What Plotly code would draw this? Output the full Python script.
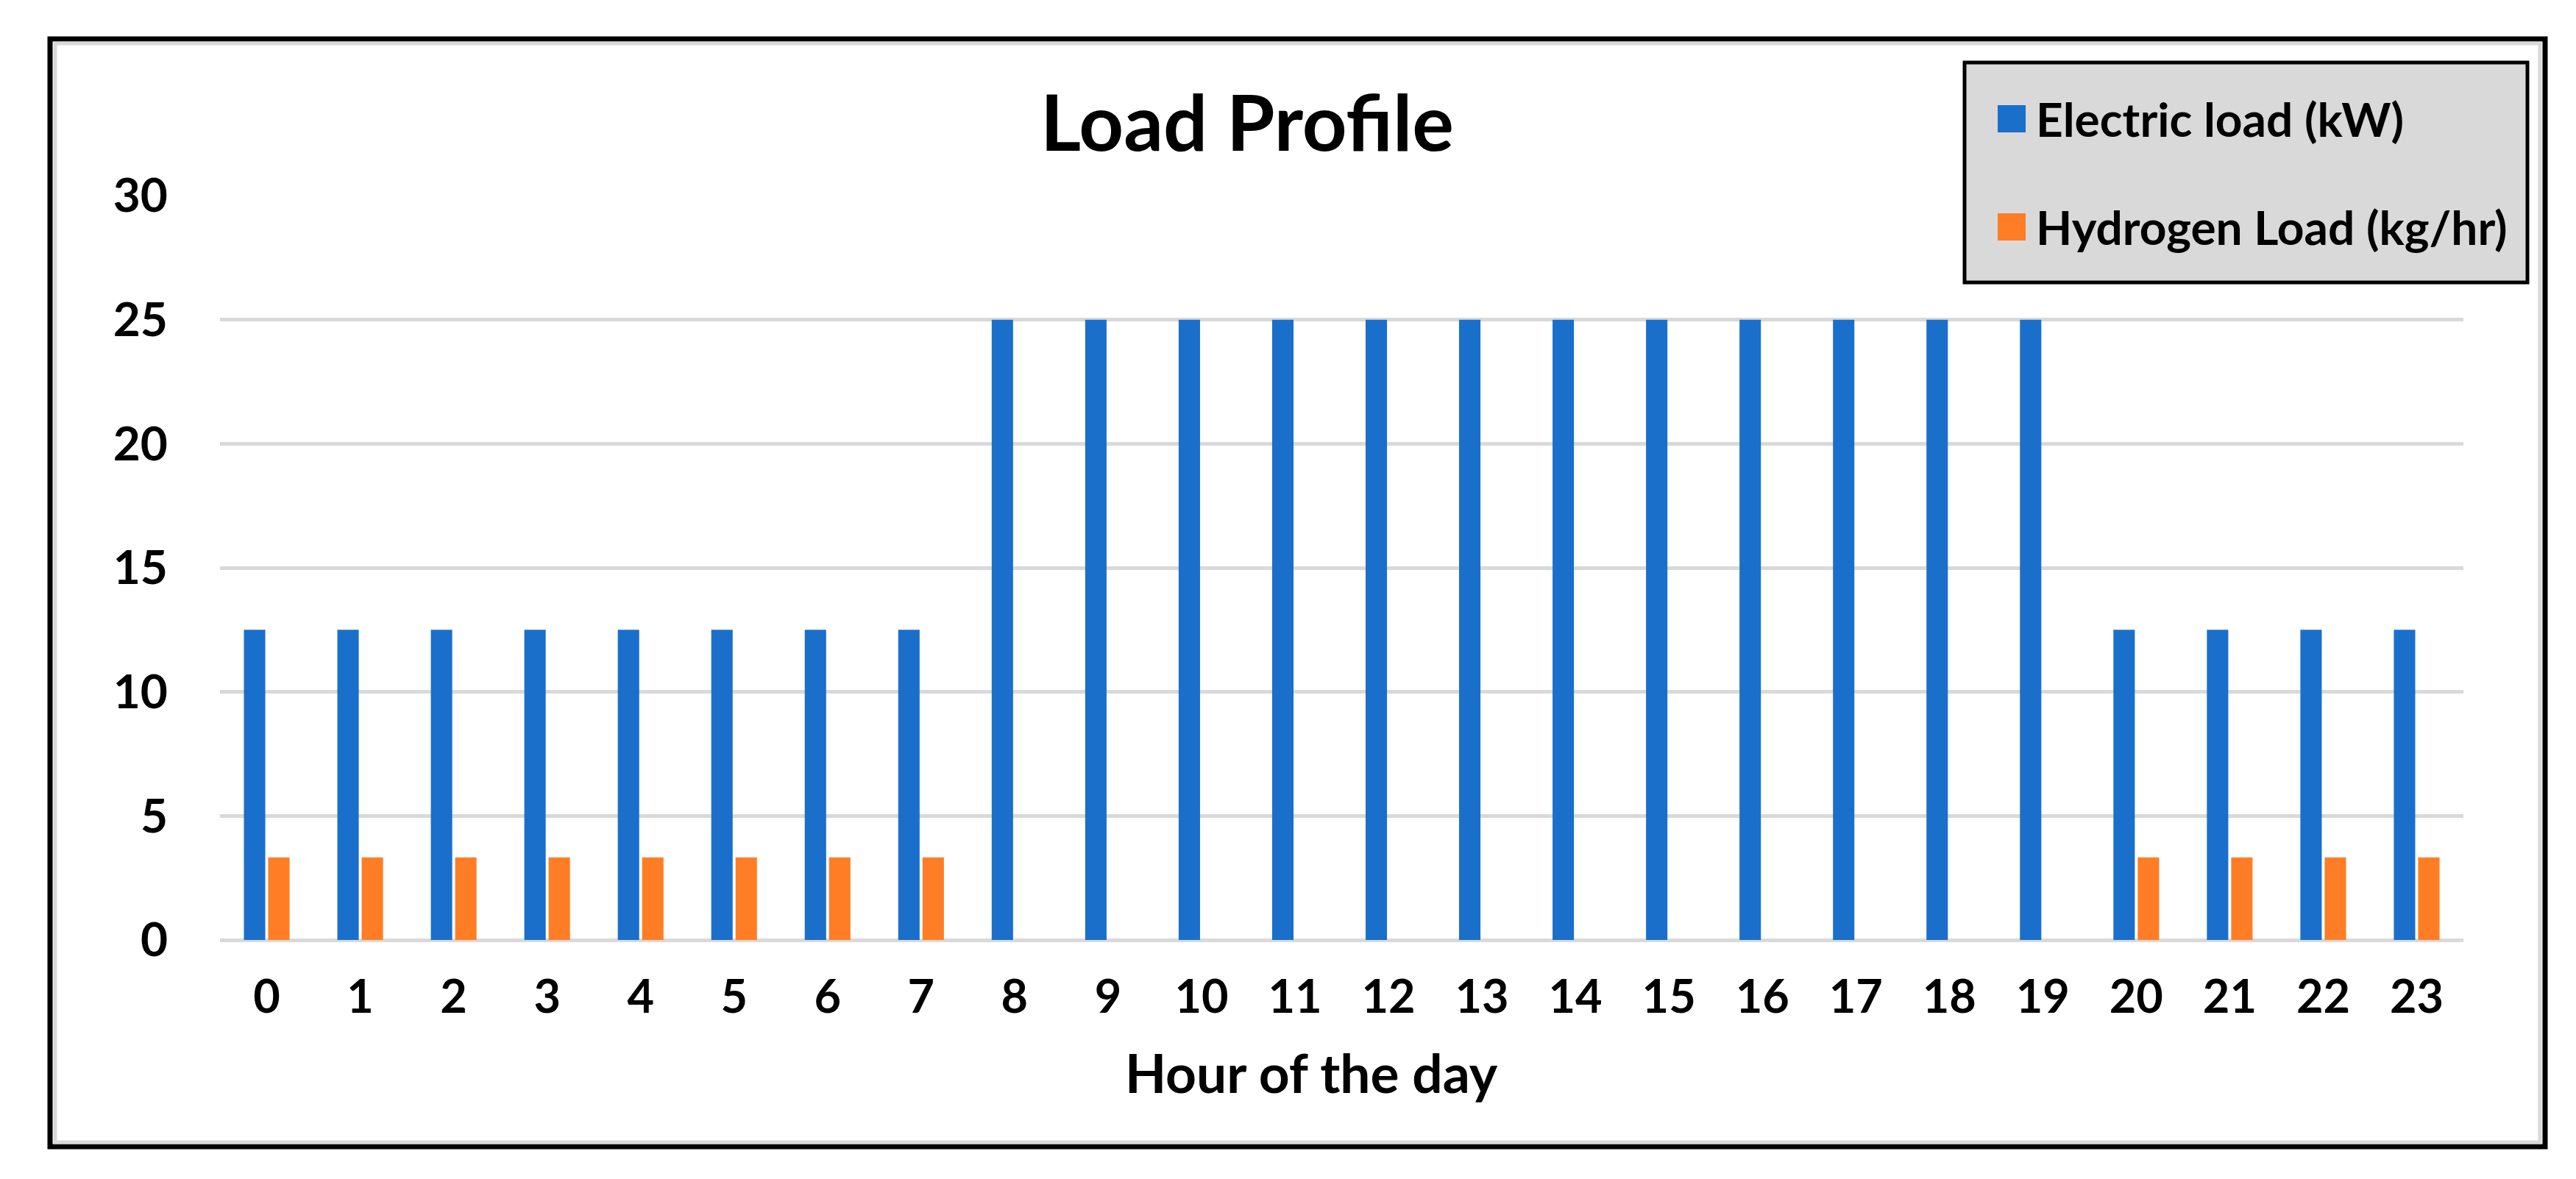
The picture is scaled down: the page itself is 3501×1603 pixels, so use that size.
import plotly.graph_objects as go

hours = [str(h) for h in range(24)]
electric_load = [12.5] * 8 + [25] * 12 + [12.5] * 4
hydrogen_load = [3.33] * 8 + [0] * 12 + [3.33] * 4
y_ticks = [0, 5, 10, 15, 20, 25, 30]

series_names = ["Electric load (kW)", "Hydrogen Load (kg/hr)"]
series_colors = ["#1A6FCB", "#FF7D24"]

W, H = 3501, 1603
L, R, T, B = 291, 3340, 258, 1270
FONT = "Lato"


def px(p):
    return (p - L) / (R - L)


def py(p):
    return (B - p) / (B - T)


fig = go.Figure()
for name, vals, col in zip(series_names, [electric_load, hydrogen_load], series_colors):
    fig.add_trace(go.Bar(x=hours, y=vals, name=name, marker=dict(color=col, line=dict(width=0)),
                         showlegend=False))

shapes = []
# outer chart border (black) and inner excel-like gray border
shapes.append(dict(type="rect", xref="paper", yref="paper", x0=px(60), x1=px(3451), y0=py(45), y1=py(1551),
                   line=dict(color="black", width=7), fillcolor="rgba(0,0,0,0)", layer="below"))
shapes.append(dict(type="rect", xref="paper", yref="paper", x0=px(67), x1=px(3444), y0=py(51), y1=py(1545),
                   line=dict(color="#D9D9D9", width=5), fillcolor="rgba(0,0,0,0)", layer="below"))
# legend box
shapes.append(dict(type="rect", xref="paper", yref="paper", x0=px(2662), x1=px(3427), y0=py(77), y1=py(376),
                   line=dict(color="black", width=5), fillcolor="#D9D9D9", layer="above"))
leg_rows = [153, 300]
annotations = []
for name, col, yc in zip(series_names, series_colors, leg_rows):
    shapes.append(dict(type="rect", xref="paper", yref="paper", x0=px(2707), x1=px(2745),
                       y0=py(yc - 18), y1=py(yc + 19), line=dict(width=0), fillcolor=col, layer="above"))
    annotations.append(dict(text=name, xref="paper", yref="paper", x=px(2757), y=py(yc),
                            xanchor="left", yanchor="middle", showarrow=False,
                            font=dict(family=FONT, size=64, color="black", weight="bold")))

annotations.append(dict(text="Hour of the day", xref="paper", yref="paper", x=px(1774), y=py(1450),
                        xanchor="center", yanchor="middle", showarrow=False,
                        font=dict(family=FONT, size=73, color="black", weight="bold")))

fig.update_layout(
    width=W, height=H,
    margin=dict(l=L, r=W - R, t=T, b=H - B, pad=0),
    paper_bgcolor="white", plot_bgcolor="white",
    barmode="group", bargap=0.48, bargroupgap=0.12,
    title=dict(text="<b>Load Profile</b>", x=px(1687), xref="paper", xanchor="center",
               y=1 - 160 / H, yref="container", yanchor="middle",
               font=dict(family=FONT, size=106, color="black")),
    font=dict(family=FONT, color="black"),
    shapes=shapes, annotations=annotations,
    showlegend=False,
)
fig.update_xaxes(type="category", ticks="", showline=False, showgrid=False, zeroline=False,
                 tickfont=dict(family=FONT, size=63, color="black", weight="bold"),
                 ticklabelstandoff=35)
fig.update_yaxes(range=[0, 30], tickvals=y_ticks, ticktext=[str(v) for v in y_ticks], ticks="",
                 showgrid=True, gridcolor="#D9D9D9", gridwidth=5,
                 zeroline=True, zerolinecolor="#D9D9D9", zerolinewidth=5, showline=False,
                 tickfont=dict(family=FONT, size=64, color="black", weight="bold"),
                 ticklabelstandoff=70)

fig.write_html("out.html")
